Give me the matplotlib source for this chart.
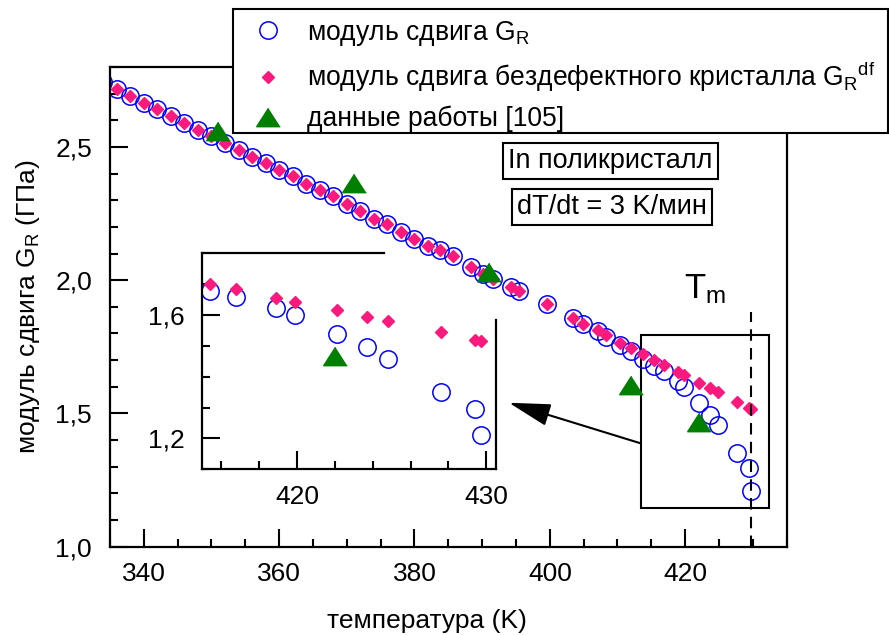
import numpy as np
import matplotlib
matplotlib.use("Agg")
import matplotlib.pyplot as plt
from matplotlib.patches import Rectangle
from matplotlib.ticker import MultipleLocator, FuncFormatter

plt.rcParams['font.family'] = ['Liberation Sans', 'DejaVu Sans']
plt.rcParams['mathtext.fontset'] = 'custom'
plt.rcParams['mathtext.rm'] = 'Liberation Sans'
plt.rcParams['mathtext.it'] = 'Liberation Sans'

# temperature (K) of measured points
temp = [334, 336, 338, 340, 342, 344, 346, 348, 350, 352, 354, 356, 358, 360,
        362, 364, 366, 368, 370, 372, 374, 376, 378, 380, 382, 383.7, 385.7,
        388.4, 390.1, 391.6, 394.3, 395.5, 399.6, 403.4, 404.9, 407.1, 408.3,
        410.3, 412.0, 413.7, 415.4, 416.8, 418.9, 419.9, 422.1, 423.7, 424.8,
        427.6, 429.4, 429.7]

# shear modulus G_R (GPa)
g_r = [2.744, 2.719, 2.690, 2.666, 2.641, 2.616, 2.591, 2.565, 2.540, 2.515,
       2.490, 2.461, 2.438, 2.415, 2.390, 2.360, 2.338, 2.315, 2.285, 2.259,
       2.231, 2.209, 2.179, 2.156, 2.129, 2.112, 2.090, 2.050, 2.025, 2.006,
       1.975, 1.960, 1.910, 1.859, 1.835, 1.810, 1.788, 1.757, 1.733, 1.706,
       1.679, 1.658, 1.622, 1.600, 1.538, 1.495, 1.456, 1.350, 1.297, 1.210]

# shear modulus of defect-free crystal G_R^df (GPa)
g_df = [2.744, 2.719, 2.690, 2.666, 2.641, 2.616, 2.591, 2.565, 2.540, 2.515,
        2.490, 2.461, 2.438, 2.415, 2.390, 2.360, 2.338, 2.315, 2.285, 2.259,
        2.231, 2.209, 2.179, 2.156, 2.129, 2.112, 2.090, 2.050, 2.025, 2.006,
        1.975, 1.960, 1.910, 1.859, 1.835, 1.812, 1.794, 1.765, 1.744, 1.723,
        1.702, 1.683, 1.656, 1.643, 1.615, 1.594, 1.581, 1.544, 1.520, 1.516]

# data from ref. [105]
ref_temp = [351.0, 371.0, 391.0, 412.0, 422.0]
ref_g = [2.560, 2.365, 2.031, 1.606, 1.467]

t_melt = 429.7

blue = '#0000ff'
pink = '#fa1a7e'
green = '#007f00'
tri = [(0, 0.78), (-1, -0.78), (1, -0.78)]


def comma(v, pos):
    return f'{v:.1f}'.replace('.', ',')


def style_ticks(ax):
    ax.tick_params(which='both', direction='in', top=False, right=False,
                   width=1.5, labelsize=19)
    ax.tick_params(which='major', length=13)
    ax.tick_params(which='minor', length=6)
    ax.tick_params(axis='x', pad=11)
    ax.tick_params(axis='y', pad=13)
    for s in ax.spines.values():
        s.set_linewidth(1.6)


def draw_points(ax):
    l1, = ax.plot(temp, g_r, 'o', ms=12.5, mfc='none', mec=blue, mew=1.1)
    l2, = ax.plot(temp, g_df, 'D', ms=5.8, color=pink, mec=pink)
    l3, = ax.plot(ref_temp, ref_g, linestyle='none', marker=tri, ms=17,
                  color=green)
    return l1, l2, l3


fig = plt.figure(figsize=(8.89, 6.35), dpi=100)
ax = fig.add_axes([0.1237, 0.1391, 0.7612, 0.7554])

h1, h2, h3 = draw_points(ax)

ax.set_xlim(335, 435)
ax.set_ylim(1.0, 2.8)
ax.xaxis.set_major_locator(MultipleLocator(20))
ax.xaxis.set_minor_locator(MultipleLocator(5))
ax.yaxis.set_major_locator(MultipleLocator(0.5))
ax.yaxis.set_minor_locator(MultipleLocator(0.1))
ax.yaxis.set_major_formatter(FuncFormatter(comma))
style_ticks(ax)

ax.set_xlabel('температура (K)', fontsize=19)
ax.set_ylabel('модуль сдвига G$_\\mathregular{R}$ (ГПа)', fontsize=19)
ax.xaxis.set_label_coords(0.468, -0.130)
ax.yaxis.set_label_coords(-0.10, 0.5)

# melting temperature
ax.plot([t_melt, t_melt], [1.0, 1.88], color='black', lw=1.5,
        dashes=(5.5, 3.5))
ax.text(419.9, 1.9325, 'T$_\\mathregular{m}$', fontsize=25,
        ha='left', va='baseline')

# zoom rectangle and arrow
ax.add_patch(Rectangle((413.4, 1.144), 432.35 - 413.4, 1.796 - 1.144,
                       fill=False, ec='black', lw=1.5))
ax.annotate('', xy=(393.95, 1.540), xytext=(413.4, 1.388),
            arrowprops=dict(arrowstyle='-|>,head_length=1.3,head_width=0.35',
                            mutation_scale=20, color='black', lw=1.5,
                            shrinkA=0, shrinkB=0))

box = dict(boxstyle='square,pad=0.18', fc='white', ec='black', lw=1.5)
ax.text(408.97, 2.446, 'In поликристалл', fontsize=19.5, ha='center',
        va='center', bbox=box)
ax.text(409.2, 2.275, 'dT/dt = 3 K/мин', fontsize=19.5, ha='center',
        va='center', bbox=box)

# inset
ins = fig.add_axes([0.2276, 0.2609, 0.330, 0.3402])
ins.patch.set_alpha(0)
draw_points(ins)
ins.set_xlim(415, 430.5)
ins.set_ylim(1.1, 1.8)
ins.xaxis.set_major_locator(MultipleLocator(10))
ins.xaxis.set_minor_locator(MultipleLocator(2))
ins.yaxis.set_major_locator(MultipleLocator(0.4))
ins.yaxis.set_minor_locator(MultipleLocator(0.1))
ins.yaxis.set_major_formatter(FuncFormatter(comma))
style_ticks(ins)
ins.spines['top'].set_bounds(415, 424.58)
ins.spines['right'].set_bounds(1.1, 1.584)

# legend frame drawn separately so the rows can be placed freely
W, H = 889, 635
fig.add_artist(Rectangle((233 / W, 1 - 133 / H), 655 / W, 124 / H,
                         transform=fig.transFigure, fc='white', ec='black',
                         lw=1.5, zorder=4))
leg = fig.legend([h1, h2, h3],
                 ['модуль сдвига G$_\\mathregular{R}$',
                  'модуль сдвига бездефектного кристалла G$_\\mathregular{R}$$^\\mathregular{df}$',
                  'данные работы [105]'],
                 loc='upper left', bbox_to_anchor=(232.8 / W, 1 - 16 / H),
                 fontsize=19.1, frameon=False, handlelength=2.45,
                 handletextpad=0.25, labelspacing=0.44, borderpad=0.1,
                 borderaxespad=0)

fig.savefig('out.png', dpi=100)
